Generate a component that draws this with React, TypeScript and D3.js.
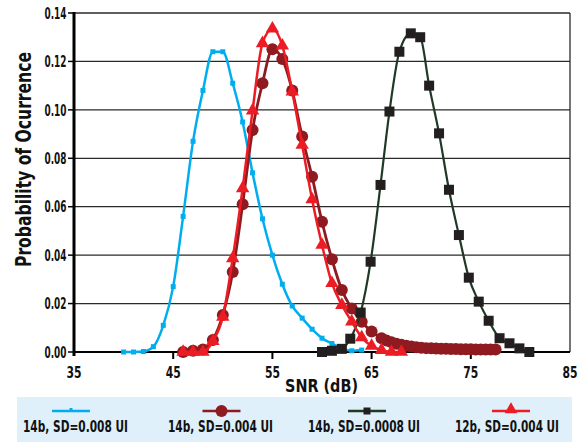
import React from "react";
import * as d3 from "d3";

const W = 581;
const H = 442;

const xTicks = [35, 45, 55, 65, 75, 85];
const yTicks = [0, 0.02, 0.04, 0.06, 0.08, 0.1, 0.12, 0.14];

const legendNames = [
  "14b, SD=0.008 UI",
  "14b, SD=0.004 UI",
  "14b, SD=0.0008 UI",
  "12b, SD=0.004 UI",
];

const blueX = [40, 41, 42, 43, 44, 45, 46, 47, 48, 49, 50, 51, 52, 53, 54, 55, 56, 57, 58, 59, 60, 61, 62, 63, 64];
const blueY = [0, 0, 0.0002, 0.0022, 0.011, 0.027, 0.056, 0.087, 0.108, 0.124, 0.124, 0.111, 0.095, 0.074, 0.055, 0.04, 0.028, 0.019, 0.014, 0.0094, 0.0057, 0.0035, 0.0015, 0.0005, 0.0008];

const darkX = [46, 47, 48, 49, 50, 51, 52, 53, 54, 55, 56, 57, 58, 59, 60, 61, 62, 63, 64, 65, 66, 66.5, 67, 67.5, 68, 68.5, 69, 69.5, 70, 70.5, 71, 71.5, 72, 72.5, 73, 73.5, 74, 74.5, 75, 75.5, 76, 76.5, 77, 77.5];
const darkY = [0, 0.0005, 0.001, 0.005, 0.0153, 0.033, 0.061, 0.0917, 0.111, 0.125, 0.121, 0.108, 0.089, 0.0724, 0.0538, 0.0383, 0.0256, 0.018, 0.0125, 0.0085, 0.0057, 0.0047, 0.004, 0.0034, 0.003, 0.0026, 0.0023, 0.002, 0.0018, 0.0016, 0.0015, 0.0014, 0.0013, 0.0013, 0.0012, 0.0012, 0.0011, 0.0011, 0.0011, 0.001, 0.001, 0.001, 0.001, 0.001];

const blackX = [60, 61, 62, 62.85, 63.9, 64.9, 65.9, 66.8, 67.8, 68.95, 69.9, 70.8, 71.8, 72.8, 73.8, 74.8, 75.8, 76.8, 77.9, 78.9, 79.9, 80.9];
const blackY = [0, 0.0005, 0.0013, 0.0055, 0.0163, 0.0373, 0.069, 0.0993, 0.124, 0.1316, 0.13, 0.11, 0.0903, 0.067, 0.0483, 0.0307, 0.0208, 0.0129, 0.0057, 0.0036, 0.0015, 0];

const redX = [46, 47, 48, 49, 50, 51, 52, 53, 54, 55, 56, 57, 58, 59, 60, 61, 62, 63, 64, 65, 66, 67, 68];
const redY = [0, 0, 0, 0.0045, 0.0145, 0.0387, 0.0676, 0.0997, 0.1275, 0.1335, 0.1265, 0.1075, 0.0855, 0.063, 0.0442, 0.0284, 0.0194, 0.0125, 0.006, 0.0025, 0.0008, 0, 0];

const FONT = "'Liberation Sans Narrow', 'Arial Narrow', 'DejaVu Sans Condensed', sans-serif";

const C_BLUE = "#00ADEE";
const C_DARK = "#8F1A20";
const C_BLACK = "#231F20";
const C_GREEN = "#1E3A24";
const C_RED = "#EC1C24";

export default function App() {
  const x = d3.scaleLinear().domain([35, 85]).range([74, 570]);
  const y = d3.scaleLinear().domain([0, 0.14]).range([352, 13]);

  const line = d3
    .line<[number, number]>()
    .x((d) => x(d[0]))
    .y((d) => y(d[1]))
    .curve(d3.curveMonotoneX);

  const zip = (a: number[], b: number[]) => a.map((v, i) => [v, b[i]] as [number, number]);
  const blue = zip(blueX, blueY);
  const dark = zip(darkX, darkY);
  const black = zip(blackX, blackY);
  const red = zip(redX, redY);

  const tri = d3.symbol().type(d3.symbolTriangle).size(78)() as string;
  const triLegend = d3.symbol().type(d3.symbolTriangle).size(70)() as string;

  const legendCenters = [75.5, 220.5, 364, 507];
  const legendLineCenters = [71, 221.5, 367, 511];
  const legendWidths = [105, 105, 112, 104];

  return (
    <svg width={W} height={H} style={{ position: "absolute", left: 0, top: 0, background: "#fff" }}>
      {/* grid */}
      {yTicks.filter((t) => t > 0).map((t) => (
        <line key={"g" + t} x1={x(35)} x2={x(85)} y1={y(t)} y2={y(t)} stroke="#2a2a2a" strokeWidth={1.3} />
      ))}
      {/* right border */}
      <line x1={x(85)} x2={x(85)} y1={y(0.14)} y2={y(0)} stroke="#2a2a2a" strokeWidth={1.3} />
      {/* y ticks */}
      {yTicks.map((t) => (
        <line key={"yt" + t} x1={68} x2={74} y1={y(t)} y2={y(t)} stroke="#000" strokeWidth={1.5} />
      ))}
      {/* x ticks */}
      {xTicks.slice(1, -1).map((t) => (
        <line key={"xt" + t} x1={x(t)} x2={x(t)} y1={y(0)} y2={y(0) + 7} stroke="#000" strokeWidth={2} />
      ))}
      {/* axes */}
      <line x1={x(35)} x2={x(85)} y1={y(0)} y2={y(0)} stroke="#000" strokeWidth={2} />
      <line x1={x(35)} x2={x(35)} y1={y(0.14) - 1} y2={y(0) + 4} stroke="#000" strokeWidth={3} />

      {/* blue series */}
      <path d={line(blue) || ""} fill="none" stroke={C_BLUE} strokeWidth={2.5} />
      {blue.map((d, i) => (
        <rect key={"b" + i} x={x(d[0]) - 2.5} y={y(d[1]) - 2.5} width={5} height={5} fill={C_BLUE} />
      ))}

      {/* dark red series */}
      <path d={line(dark) || ""} fill="none" stroke={C_DARK} strokeWidth={2.8} />
      {dark.map((d, i) => (
        <circle key={"d" + i} cx={x(d[0])} cy={y(d[1])} r={6} fill={C_DARK} />
      ))}

      {/* black series */}
      <path d={line(black) || ""} fill="none" stroke={C_GREEN} strokeWidth={2.2} />
      {black.map((d, i) => (
        <rect key={"k" + i} x={x(d[0]) - 5} y={y(d[1]) - 5} width={10} height={10} fill={C_BLACK} />
      ))}

      {/* red series */}
      <path d={line(red) || ""} fill="none" stroke={C_RED} strokeWidth={2.5} />
      {red.map((d, i) => (
        <path key={"r" + i} d={tri} transform={`translate(${x(d[0])},${y(d[1])})`} fill={C_RED} />
      ))}

      {/* tick labels */}
      {yTicks.map((t) => (
        <text key={"yl" + t} x={66.5} y={y(t)} dy="0.36em" textAnchor="end" fontFamily={FONT} fontWeight="bold" fontSize={16} fill="#111" textLength={22} lengthAdjust="spacingAndGlyphs">
          {t.toFixed(2)}
        </text>
      ))}
      {xTicks.map((t) => (
        <text key={"xl" + t} x={x(t)} y={378} textAnchor="middle" fontFamily={FONT} fontWeight="bold" fontSize={16} fill="#111" textLength={15} lengthAdjust="spacingAndGlyphs">
          {t}
        </text>
      ))}

      {/* axis titles */}
      <text x={321.5} y={392} textAnchor="middle" fontFamily={FONT} fontWeight="bold" fontSize={18} fill="#111" textLength={73} lengthAdjust="spacingAndGlyphs">
        SNR (dB)
      </text>
      <text transform="translate(31,159.5) rotate(-90)" textAnchor="middle" fontFamily={FONT} fontWeight="bold" fontSize={21} fill="#111" textLength={215} lengthAdjust="spacingAndGlyphs">
        Probability of Ocurrence
      </text>

      {/* legend */}
      <rect x={17} y={397} width={555} height={45} fill="#DFF0FA" />
      {legendNames.map((name, i) => {
        const cx = legendLineCenters[i];
        const stroke = [C_BLUE, C_DARK, C_GREEN, C_RED][i];
        return (
          <g key={"lg" + i}>
            <line x1={cx - 19} x2={cx + 19} y1={411} y2={411} stroke={stroke} strokeWidth={2.5} />
            {i === 0 && <rect x={cx - 1.5} y={408} width={3} height={3} fill={C_BLUE} />}
            {i === 1 && <circle cx={cx} cy={411} r={6} fill={C_DARK} />}
            {i === 2 && <rect x={cx - 3.5} y={407.5} width={7} height={7} fill={C_BLACK} />}
            {i === 3 && <path d={triLegend} transform={`translate(${cx},${409.5})`} fill={C_RED} />}
            <text x={legendCenters[i]} y={432} textAnchor="middle" fontFamily={FONT} fontWeight="bold" fontSize={16} fill="#111" textLength={legendWidths[i]} lengthAdjust="spacingAndGlyphs">
              {name}
            </text>
          </g>
        );
      })}
    </svg>
  );
}
